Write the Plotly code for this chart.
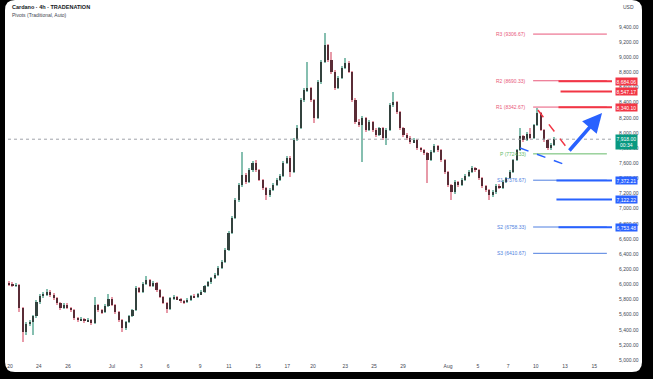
import plotly.graph_objects as go
import numpy as np

# ---------------- data ----------------
open_ = [6010,5995,5979,5992,5688,5371,5476,5503,5582,5767,
5847,5873,5899,5860,5820,5754,5688,5728,5688,5661,
5556,5529,5543,5516,5529,5490,5728,5661,5635,5714,
5807,5728,5635,5529,5424,5503,5582,5661,5952,5899,
6005,6058,5979,6018,5926,5833,5754,5675,5820,5833,
5807,5780,5767,5794,5847,5833,5873,5899,5979,6031,
6084,6124,6216,6296,6454,6679,6877,7115,7313,7445,
7353,7511,7604,7511,7379,7273,7181,7247,7313,7379,
7432,7604,7670,7485,7907,8066,8436,8568,8594,8436,
8198,8673,8938,9162,8964,8806,8594,8726,8858,8924,
8806,8436,8145,8105,8198,8039,8145,8039,7973,8066,
7934,8039,8370,8409,8277,8066,7973,7934,7881,7907,
7802,7775,7736,7643,7749,7828,7775,7643,7485,7313,
7220,7353,7313,7379,7432,7485,7538,7511,7405,7300,
7247,7181,7220,7300,7273,7353,7405,7485,7643,7775,
7960,7907,7987,7934,8105,8264,8039,7907,7802,7841]

close = [5995,5979,5992,5688,5371,5476,5503,5582,5767,5847,
5873,5899,5860,5820,5754,5688,5728,5688,5661,5556,
5529,5543,5516,5529,5490,5728,5661,5635,5714,5807,
5728,5635,5529,5424,5503,5582,5661,5952,5899,6005,
6058,5979,6018,5926,5833,5754,5675,5820,5833,5807,
5780,5767,5794,5847,5833,5873,5899,5979,6031,6084,
6124,6216,6296,6454,6679,6877,7115,7313,7445,7353,
7511,7604,7511,7379,7273,7181,7247,7313,7379,7432,
7604,7670,7485,7907,8066,8436,8568,8594,8436,8198,
8673,8938,9162,8964,8806,8594,8726,8858,8924,8806,
8436,8145,8105,8198,8039,8145,8039,7973,8066,7934,
8039,8370,8409,8277,8066,7973,7934,7881,7907,7802,
7775,7736,7643,7749,7828,7775,7643,7485,7313,7220,
7353,7313,7379,7432,7485,7538,7511,7405,7300,7247,
7181,7220,7300,7273,7353,7405,7485,7643,7775,7960,
7907,7987,7934,8105,8264,8039,7907,7802,7841,7918]

high = [6040,6030,6020,6005,5700,5500,5530,5600,5790,5870,
5900,5939,5920,5880,5835,5770,5750,5760,5705,5675,
5570,5565,5560,5550,5545,5833,5745,5680,5735,5873,
5830,5745,5650,5545,5520,5600,5680,5975,5970,6030,
6111,6075,6045,6035,5945,5850,5770,5840,5860,5850,
5825,5800,5815,5865,5870,5890,5920,5995,6050,6100,
6150,6240,6320,6475,6700,6900,7140,7340,7749,7470,
7540,7630,7640,7530,7395,7290,7270,7335,7400,7455,
7630,7700,7690,7930,8100,8460,8600,8938,8610,8450,
8700,8960,9321,9180,9070,8830,8750,8880,8990,8945,
8825,8460,8180,8225,8215,8170,8160,8060,8085,8080,
8060,8390,8541,8425,8290,8085,7995,7955,7930,7925,
7820,7795,7755,7770,7850,7845,7795,7660,7500,7330,
7375,7370,7400,7455,7510,7560,7555,7525,7420,7315,
7265,7245,7320,7320,7375,7425,7505,7660,7795,8066,
7980,8010,8066,8125,8330,8280,8055,7925,7865,7947]

low = [5975,5960,5965,5635,5239,5331,5450,5331,5560,5740,
5820,5850,5840,5800,5730,5660,5670,5670,5640,5535,
5505,5515,5495,5500,5465,5480,5640,5610,5620,5700,
5710,5615,5505,5371,5400,5490,5565,5650,5880,5885,
5990,5960,5965,5905,5815,5735,5622,5660,5800,5790,
5760,5745,5750,5780,5815,5820,5860,5885,5965,6010,
6065,6105,6200,6280,6440,6660,6860,7095,7290,7330,
7340,7490,7490,7360,7250,7115,7160,7230,7295,7360,
7420,7590,7419,7470,7890,8050,8410,8545,8410,8132,
8180,8650,8920,8940,8780,8570,8575,8710,8840,8790,
8410,8120,8080,7617,8015,8020,8015,7950,7955,7910,
7841,8020,8350,8255,8045,7950,7910,7860,7865,7780,
7750,7715,7339,7625,7730,7755,7620,7460,7290,7115,
7200,7290,7295,7360,7415,7470,7490,7385,7280,7225,
7115,7160,7200,7255,7255,7335,7390,7470,7625,7760,
7885,7890,7915,7915,8090,8020,7885,7780,7780,7825]

# date labels and the candle index where each falls
xtick_labels = ["20","24","26","Jul","3","6","9","11","15","17","20",
                "23","25","29","Aug","5","7","10","13","15"]
xtick_index = [0.3,8.7,17.2,30.0,38.5,46.4,55.7,64.1,72.6,81.1,88.6,
               98.0,106.4,114.9,128.0,136.7,145.5,153.6,162.1,170.6]

ytick_vals = [5000,5200,5400,5600,5800,6000,6200,6400,6600,6800,7000,7200,
              7400,7600,7800,8000,8200,8400,8600,8800,9000,9200,9400]
ytick_text = ["5,000.00","5,200.00","5,400.00","5,600.00","5,800.00","6,000.00",
              "6,200.00","6,400.00","6,600.00","6,800.00","7,000.00","7,200.00",
              "7,400.00","7,600.00","7,800.00","8,000.00","8,200.00","8,400.00",
              "8,600.00","8,800.00","9,000.00","9,200.00","9,400.00"]

# pivot levels (Traditional, Auto)
pivot_names = ["R3","R2","R1","P","S1","S2","S3"]
pivot_values = [9306.67,8690.33,8342.67,7724.33,7376.67,6758.33,6410.67]
pivot_colors = ["#e8577a","#e8577a","#e8577a","#66bb6a","#4f7fe0","#4f7fe0","#4f7fe0"]
pivot_start, pivot_end = 152.8, 174.3

# horizontal rays drawn by user
ray_values = [8684.06, 8547.17, 8340.10, 7372.21, 7122.22, 6753.48]
ray_labels = ["8,684.06","8,547.17","8,340.10","7,372.21","7,122.22","6,753.48"]
ray_colors = ["#f23645","#f23645","#f23645","#2962ff","#2962ff","#2962ff"]
ray_start = [160.2, 160.8, 160.2, 159.6, 159.6, 160.2]

last_price = 7918.00
last_label = "7,918.00<br>00:34"

# flag drawing (time index, price)
red_dash_x = [154.2, 163.6]; red_dash_y = [8303, 7749]
blue_dash_x = [149.0, 162.4]; blue_dash_y = [7802, 7577]
arrow_x = [163.0, 172.9]; arrow_y = [7749, 8264]

# ---------------- figure ----------------
W, H = 653, 379
ML, MR, MT, MB = 8, 41, 0, 17
PW, PH = W - ML - MR, H - MT - MB

def pxx(p):
    return (p - ML) / PW

def pxy(p):
    return 1 - (p - MT) / PH

o = np.array(open_, float); c = np.array(close, float)
h = np.array(high, float); l = np.array(low, float)
idx = np.arange(len(o))
up = c >= o
wick_col = np.where(up, "#86bfb0", "#e79aa8")
body_col = np.where(up, "#33423e", "#5a2c36")
body_base = np.minimum(o, c)
body_h = np.maximum(np.abs(c - o), 6)

fig = go.Figure()
fig.add_trace(go.Bar(x=idx, y=h - l, base=l, width=0.3,
                     marker=dict(color=wick_col, line=dict(width=0)),
                     hoverinfo="skip", showlegend=False))
fig.add_trace(go.Bar(x=idx, y=body_h, base=body_base, width=0.62,
                     marker=dict(color=body_col, line=dict(width=0)),
                     hoverinfo="skip", showlegend=False))

shapes = []
# white rounded panel on black background
L_, R_, T_, B_, r = 5, 642, 0, 372, 10
path = (f"M{pxx(L_+r)},{pxy(T_)} L{pxx(R_-r)},{pxy(T_)} Q{pxx(R_)},{pxy(T_)} {pxx(R_)},{pxy(T_+r)} "
        f"L{pxx(R_)},{pxy(B_-r)} Q{pxx(R_)},{pxy(B_)} {pxx(R_-r)},{pxy(B_)} "
        f"L{pxx(L_+r)},{pxy(B_)} Q{pxx(L_)},{pxy(B_)} {pxx(L_)},{pxy(B_-r)} "
        f"L{pxx(L_)},{pxy(T_+r)} Q{pxx(L_)},{pxy(T_)} {pxx(L_+r)},{pxy(T_)} Z")
shapes.append(dict(type="path", path=path, xref="paper", yref="paper",
                   fillcolor="white", line=dict(width=0), layer="below"))

xr = [-0.3, 175.8]
# current price dotted line
shapes.append(dict(type="line", xref="x", yref="y", x0=xr[0], x1=xr[1],
                   y0=last_price, y1=last_price,
                   line=dict(color="#a0a3ab", width=1, dash="dot")))
# pivot lines
for v, col in zip(pivot_values, pivot_colors):
    shapes.append(dict(type="line", xref="x", yref="y", x0=pivot_start, x1=pivot_end,
                       y0=v, y1=v, line=dict(color=col, width=1)))
# rays
for v, col, s in zip(ray_values, ray_colors, ray_start):
    shapes.append(dict(type="line", xref="x", yref="y", x0=s, x1=xr[1],
                       y0=v, y1=v, line=dict(color=col, width=2)))
# flag dashed lines
shapes.append(dict(type="line", xref="x", yref="y", x0=red_dash_x[0], x1=red_dash_x[1],
                   y0=red_dash_y[0], y1=red_dash_y[1],
                   line=dict(color="#f23645", width=1.5, dash="dash")))
shapes.append(dict(type="line", xref="x", yref="y", x0=blue_dash_x[0], x1=blue_dash_x[1],
                   y0=blue_dash_y[0], y1=blue_dash_y[1],
                   line=dict(color="#2962ff", width=1.5, dash="dash")))

ann = []
FONT = "Liberation Sans"
ann.append(dict(xref="paper", yref="paper", x=pxx(10), y=pxy(7), xanchor="left", yanchor="middle",
                text="<b>Cardano · 4h · TRADENATION</b>", showarrow=False,
                font=dict(family=FONT, size=5.5, color="#131722")))
ann.append(dict(xref="paper", yref="paper", x=pxx(10), y=pxy(15), xanchor="left", yanchor="middle",
                text="Pivots (Traditional, Auto)", showarrow=False,
                font=dict(family=FONT, size=5, color="#434651")))
ann.append(dict(xref="paper", yref="paper", x=pxx(621), y=pxy(7), xanchor="left", yanchor="middle",
                text="USD", showarrow=False, font=dict(family=FONT, size=5, color="#434651")))
for n, v, col in zip(pivot_names, pivot_values, pivot_colors):
    ann.append(dict(xref="x", yref="y", x=151.3, y=v, xanchor="right", yanchor="middle",
                    text=f"{n} ({v:.2f})", showarrow=False,
                    font=dict(family=FONT, size=5, color=col)))
for v, t, col in zip(ray_values, ray_labels, ray_colors):
    ann.append(dict(xref="paper", yref="y", x=1, y=v, xanchor="left", yanchor="middle",
                    xshift=3, text=t, showarrow=False, bgcolor=col, borderpad=0.5,
                    font=dict(family=FONT, size=5, color="white")))
ann.append(dict(xref="paper", yref="y", x=1, y=last_price, yshift=-3, xanchor="left", yanchor="middle",
                xshift=3, text=last_label, showarrow=False, bgcolor="#089981", borderpad=0.5,
                font=dict(family=FONT, size=5, color="white")))
ann.append(dict(xref="x", yref="y", x=arrow_x[1], y=arrow_y[1], axref="x", ayref="y",
                ax=arrow_x[0], ay=arrow_y[0], showarrow=True, arrowhead=2,
                arrowwidth=3.5, arrowsize=1.1, arrowcolor="#2962ff", text=""))

fig.update_layout(
    width=W, height=H,
    margin=dict(l=ML, r=MR, t=MT, b=MB),
    paper_bgcolor="black", plot_bgcolor="rgba(0,0,0,0)",
    barmode="overlay", bargap=0, showlegend=False,
    shapes=shapes, annotations=ann,
    xaxis=dict(range=xr, showgrid=False, zeroline=False, showline=False,
               tickmode="array", tickvals=xtick_index, ticktext=xtick_labels,
               ticks="", tickfont=dict(family=FONT, size=5, color="#434651")),
    yaxis=dict(range=[4975, 9757], side="right", showgrid=False, zeroline=False,
               showline=False, tickmode="array", tickvals=ytick_vals, ticktext=ytick_text,
               ticks="", ticklabelstandoff=6,
               tickfont=dict(family=FONT, size=5, color="#434651")),
)

fig.write_html("out.html", config={"displayModeBar": False},
               post_script="document.body.style.margin='0';document.body.style.overflow='hidden';")
